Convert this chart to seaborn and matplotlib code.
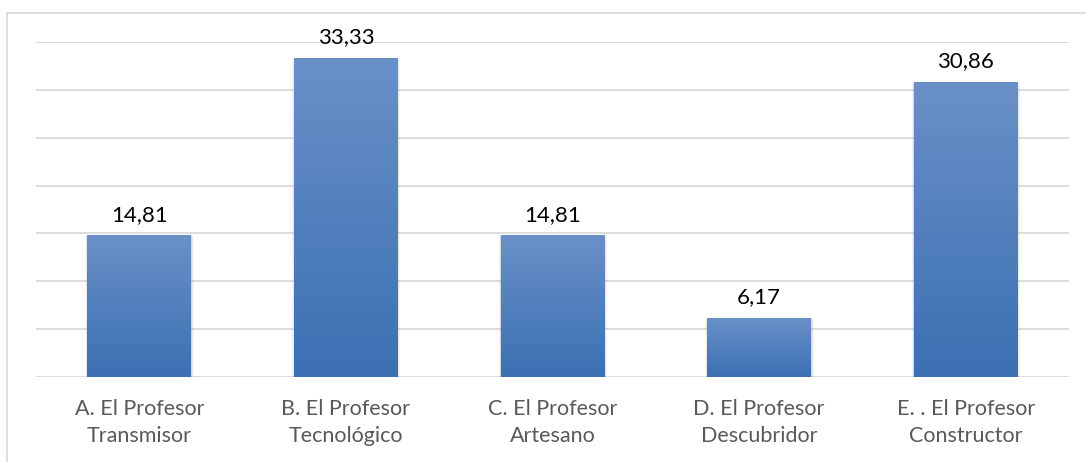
import matplotlib
matplotlib.use("Agg")
import matplotlib.pyplot as plt
import matplotlib.patches as mpatches
import numpy as np
import pandas as pd
import seaborn as sns

categories = [
    "A. El Profesor\nTransmisor",
    "B. El Profesor\nTecnológico",
    "C. El Profesor\nArtesano",
    "D. El Profesor\nDescubridor",
    "E. . El Profesor\nConstructor",
]
values = [14.81, 33.33, 14.81, 6.17, 30.86]

sns.set_theme(style="white")
plt.rcParams["font.family"] = ["Lato", "DejaVu Sans"]

df = pd.DataFrame({"cat": categories, "val": values})

fig = plt.figure(figsize=(10.86, 4.62), dpi=100)
ax = fig.add_axes([36 / 1086, 1 - 377 / 462, 1033 / 1086, 335 / 462])

sns.barplot(data=df, x="cat", y="val", ax=ax, width=0.503, color="#4F81BD",
            saturation=1, zorder=3)

ax.set_ylim(0, 35)
ax.set_xlim(-0.5, len(categories) - 0.5)
ax.set_yticks(np.arange(0, 36, 5))
ax.yaxis.grid(True, color="#D9D9D9", linewidth=1.3, zorder=0)
ax.set_axisbelow(True)
ax.tick_params(axis="y", left=False, labelleft=False)
ax.tick_params(axis="x", bottom=False, colors="#595959", labelsize=15.5, pad=10)
for lbl in ax.get_xticklabels():
    lbl.set_linespacing(1.45)
for s in ax.spines.values():
    s.set_visible(False)
ax.set_xlabel("")
ax.set_ylabel("")

# gradient fill like the Office chart style
grad = np.linspace(0, 1, 256)[:, None]
top = np.array([0x6A, 0x90, 0xC8]) / 255
bottom = np.array([0x3B, 0x70, 0xB3]) / 255
img = bottom[None, None, :] * (1 - grad[..., None]) + top[None, None, :] * grad[..., None]

for bar, v in zip(ax.patches, values):
    x0, w, h = bar.get_x(), bar.get_width(), bar.get_height()
    bar.set_facecolor("none")
    bar.set_edgecolor("none")
    # soft shadow
    for k, a in [(0.012, 0.06), (0.007, 0.10), (0.003, 0.14)]:
        ax.add_patch(mpatches.Rectangle((x0 - k * 0.6, -0.12 - k * 8), w + k * 1.6, h + k * 8,
                                        facecolor="#707070", edgecolor="none",
                                        alpha=a, zorder=2))
    im = ax.imshow(img, extent=[x0, x0 + w, 0, h], origin="lower", aspect="auto",
                   zorder=4, interpolation="bilinear")
    im.set_clip_path(mpatches.Rectangle((x0, 0), w, h, transform=ax.transData))
    ax.annotate(f"{v:.2f}".replace(".", ","), (x0 + w / 2, h), xytext=(0, 10.5),
                textcoords="offset points", ha="center", va="baseline",
                fontsize=16, color="#000000", zorder=5)

ax.set_xlim(-0.5, len(categories) - 0.5)
ax.set_ylim(0, 35)

# outer chart border
fig.patches.append(mpatches.Rectangle((7 / 1086, -0.1), 1.2, 1 - 13 / 462 + 0.1,
                                      transform=fig.transFigure, fill=False,
                                      edgecolor="#D9D9D9", linewidth=1.3))

fig.savefig("out.png", dpi=100, facecolor="white")
